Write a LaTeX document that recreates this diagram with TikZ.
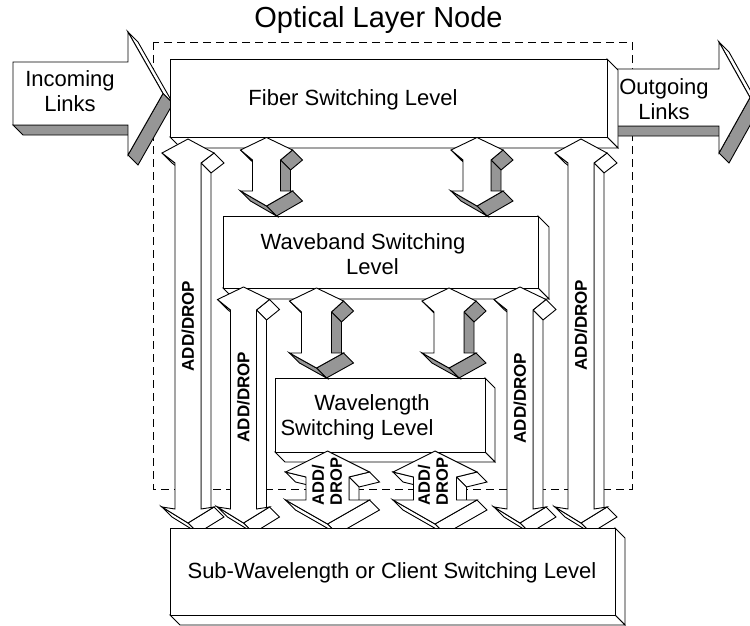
\documentclass[tikz,border=0pt]{standalone}
\usepackage{fontspec}
\setmainfont{Liberation Sans}
\definecolor{shade}{RGB}{150,150,150}
\tikzset{
  shapeline/.style={draw=black,line width=0.9pt,line join=miter},
  txt/.style={font=\fontsize{22}{25}\selectfont,align=center,inner sep=0pt},
  lab/.style={font=\bfseries\fontsize{17}{18}\selectfont,rotate=90,inner sep=0pt,align=left},
  frame/.style={draw=black,line width=0.9pt,dash pattern=on 8pt off 5pt}
}
\def\getthree#1/#2/#3\relax{\def\gva{#1}\def\gvb{#2}\def\gvc{#3}}
% extruded polygon: #1 dark side fill, #2 light side fill, #3 depth; points in \plist (first repeated at end, clockwise on screen)
\newcommand\xshape[3]{%
  \gdef\xpath{}%
  \foreach \x/\y [count=\i] in \plist {%
    \ifnum\i=1 \xdef\xpath{(\x,\y)}\else\xdef\xpath{\xpath -- (\x,\y)}\fi}%
  \foreach \x/\y [count=\i, remember=\x as \px (initially 0), remember=\y as \py (initially 0)] in \plist {%
    \ifnum\i>1
      \pgfmathsetmacro\ff{(\y-\py)-(\x-\px)}%
      \pgfmathsetmacro\fx{\x-\px}%
      \ifdim\ff pt>0.01pt
        \ifdim\fx pt>0.01pt \def\fc{#2}\else\def\fc{#1}\fi
        \draw[shapeline,fill=\fc] (\px,\py) -- (\x,\y) -- ++(#3,#3) -- ++(\px-\x,\py-\y) -- cycle;
      \fi
    \fi}%
  \edef\tmp{\noexpand\draw[shapeline,fill=white] \xpath -- cycle;}\tmp
}
\newcommand\xbox[5]{\edef\plist{#1/#2,#3/#2,#3/#4,#1/#4,#1/#2}\xshape{white}{white}{#5}}
% vertical double arrow: #1 dark, #2 light, #3 cx, #4 shaft half width, #5 head half width, #6 ttip/tbarb/tinner, #7 binner/bbarb/btip
\newcommand\vdarrow[7]{%
  \getthree#6\relax \let\attip\gva \let\atbarb\gvb \let\atinn\gvc
  \getthree#7\relax \let\abinn\gva \let\abbarb\gvb \let\abtip\gvc
  \pgfmathsetmacro\xro{#3+#5}\pgfmathsetmacro\xri{#3+#4}%
  \pgfmathsetmacro\xlo{#3-#5}\pgfmathsetmacro\xli{#3-#4}%
  \edef\plist{#3/\attip,\xro/\atbarb,\xri/\atinn,\xri/\abinn,\xro/\abbarb,#3/\abtip,\xlo/\abbarb,\xli/\abinn,\xli/\atinn,\xlo/\atbarb,#3/\attip}%
  \xshape{#1}{#2}{10}}
\begin{document}
\begin{tikzpicture}[x=1pt,y=-1pt]
\useasboundingbox (0,0) rectangle (750,626);
\clip (0,0) rectangle (750,626);
% node frame
\draw[frame] (153,42) rectangle (632,489);
% incoming / outgoing links
\def\plist{13/62,128/62,128/32,163/93.5,128/155,128/125,13/125,13/62}\xshape{shade}{white}{10}
\def\plist{607/69,719/69,719/42,750/97.5,719/153,719/126,607/126,607/69}\xshape{shade}{white}{10}
\node[txt] (inc) at (70,91.6) {Incoming\\Links};
\node[txt] (outg) at (664,99) {Outgoing\\Links};
% fiber switching level
\xbox{170}{59}{607}{137}{11}
\node[txt,anchor=base] (fiber) at (353,106) {Fiber Switching Level};
% waveband switching level
\xbox{223}{216}{538}{288}{11}
\node[txt] (waveband) at (363,254.5) {Waveband Switching\\\hspace*{19pt}Level};
% wavelength switching level
\xbox{275}{378}{485}{452}{10}
\node[txt] (wavelength) at (357,417) {\hspace*{30pt}Wavelength\\Switching Level};
% fiber <-> waveband
\vdarrow{shade}{white}{266.5}{14}{26}{137.5/150/160}{191/191/206}
\vdarrow{shade}{white}{477}{14}{26}{137.5/150/160}{191/191/206}
% waveband <-> wavelength
\vdarrow{shade}{white}{316.5}{15}{27}{288/301/312}{353/353/368}
\vdarrow{shade}{white}{449}{15}{27}{288/301/312}{353/353/368}
% add/drop arrows
\vdarrow{white}{white}{188}{13}{26}{139/153/163}{509/507/523}
\vdarrow{white}{white}{581}{13}{26}{139/153/163}{509/507/523}
\vdarrow{white}{white}{243.5}{13}{26}{287/299.5/310}{509/507/523}
\vdarrow{white}{white}{520}{13}{26}{287/299.5/310}{509/507/523}
\vdarrow{white}{white}{327.5}{21.5}{42}{451/472/477}{500/500/524}
\vdarrow{white}{white}{435}{21.5}{42}{451/472/477}{500/500/524}
\node[lab] (ad1) at (188,326) {ADD/DROP};
\node[lab] (ad2) at (581,325) {ADD/DROP};
\node[lab] (ad3) at (243.5,397) {ADD/DROP};
\node[lab] (ad4) at (520,398) {ADD/DROP};
\node[lab,font=\bfseries\fontsize{16.5}{18}\selectfont] (ad5) at (327,481.5) {ADD/\\DROP};
\node[lab,font=\bfseries\fontsize{16.5}{18}\selectfont] (ad6) at (433,481.5) {ADD/\\DROP};
% sub-wavelength level
\xbox{170}{528}{615}{615}{10}
\node[txt,anchor=base] (sub) at (392,578.3) {Sub-Wavelength or Client Switching Level};
% title
\node[anchor=base,font=\fontsize{29}{32}\selectfont,inner sep=0pt] (title) at (378.5,27.5) {Optical Layer Node};
\end{tikzpicture}
\end{document}
